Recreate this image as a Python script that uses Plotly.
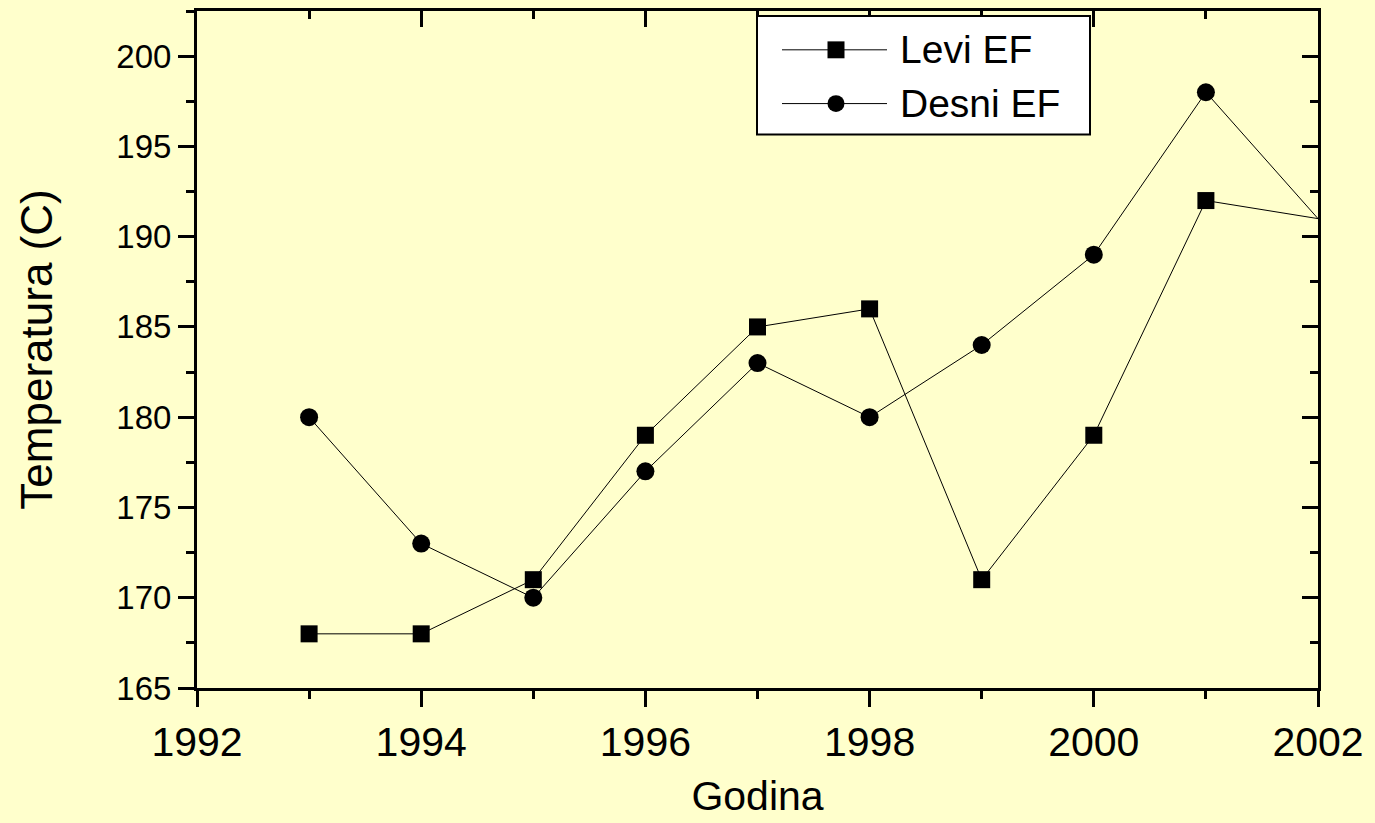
import plotly.graph_objects as go

years = [1993, 1994, 1995, 1996, 1997, 1998, 1999, 2000, 2001, 2002]
levi_ef = [168, 168, 171, 179, 185, 186, 171, 179, 192, 191]
desni_ef = [180, 173, 170, 177, 183, 180, 184, 189, 198, 191]
series_names = ["Levi EF", "Desni EF"]

x_title = "Godina"
y_title = "Temperatura (C)"
x_range = [1992, 2002]
y_range = [165, 202.5]

FONT = "Liberation Sans, Arial, sans-serif"
BG = "#FFFFCC"

W, H = 1375, 823
ML, MR, MT, MB = 197, 57, 11, 132
PW, PH = W - ML - MR, H - MT - MB

def px_x(px):
    return (px - ML) / PW

def px_y(py):
    return (H - MB - py) / PH

# hide marker on last (edge) point
sq_sizes = [17] * (len(years) - 1) + [0]
ci_sizes = [18] * (len(years) - 1) + [0]

fig = go.Figure()
fig.add_trace(go.Scatter(
    x=years, y=levi_ef, name=series_names[0], mode="lines+markers",
    line=dict(color="black", width=1),
    marker=dict(symbol="square", size=sq_sizes, color="black",
                line=dict(color="black", width=0), opacity=1),
))
fig.add_trace(go.Scatter(
    x=years, y=desni_ef, name=series_names[1], mode="lines+markers",
    line=dict(color="black", width=1),
    marker=dict(symbol="circle", size=ci_sizes, color="black",
                line=dict(color="black", width=0), opacity=1),
))
# helper trace for mirrored axes (top/right with inward ticks)
fig.add_trace(go.Scatter(x=[None], y=[None], xaxis="x2", yaxis="y2",
                         showlegend=False, hoverinfo="skip"))

# custom legend (Origin style: long line sample with centred marker)
shapes = []
annotations = []
box = dict(x0=757, x1=1090, y0=16, y1=135)
shapes.append(dict(type="rect", xref="paper", yref="paper", layer="above",
                   x0=px_x(box["x0"]), x1=px_x(box["x1"]),
                   y0=px_y(box["y1"]), y1=px_y(box["y0"]),
                   fillcolor="white", line=dict(color="black", width=2)))
rows = [50, 104]
for i, (name, row) in enumerate(zip(series_names, rows)):
    shapes.append(dict(type="line", xref="paper", yref="paper", layer="above",
                       x0=px_x(782), x1=px_x(887), y0=px_y(row), y1=px_y(row),
                       line=dict(color="black", width=1)))
    half = 8.5
    shapes.append(dict(type="rect" if i == 0 else "circle",
                       xref="paper", yref="paper", layer="above",
                       x0=px_x(836 - half), x1=px_x(836 + half),
                       y0=px_y(row + half), y1=px_y(row - half),
                       fillcolor="black", line=dict(color="black", width=0)))
    annotations.append(dict(text=name, xref="paper", yref="paper",
                            x=px_x(898), y=px_y(row), xanchor="left",
                            yanchor="middle", showarrow=False,
                            font=dict(size=39, family=FONT, color="black")))

common = dict(showline=True, linecolor="black", linewidth=3,
              showgrid=False, zeroline=False, tickwidth=2.5, ticklen=16,
              tickcolor="black")

fig.update_layout(
    width=W, height=H,
    margin=dict(l=ML, r=MR, t=MT, b=MB),
    paper_bgcolor=BG, plot_bgcolor=BG,
    font=dict(family=FONT, color="black"),
    showlegend=False,
    shapes=shapes,
    annotations=annotations,
    xaxis=dict(
        range=x_range, dtick=2, tick0=1992, ticks="outside",
        tickfont=dict(size=41), title=dict(text=x_title, font=dict(size=41), standoff=18),
        minor=dict(dtick=1, ticks="outside", ticklen=8, tickwidth=2.5, tickcolor="black"),
        **common,
    ),
    yaxis=dict(
        range=y_range, dtick=5, tick0=165, ticks="outside",
        tickfont=dict(size=33), title=dict(text=y_title, font=dict(size=44), standoff=50),
        minor=dict(dtick=2.5, ticks="outside", ticklen=8, tickwidth=2.5, tickcolor="black"),
        **common,
    ),
    xaxis2=dict(
        range=x_range, dtick=2, tick0=1992, ticks="inside", side="top",
        overlaying="x", anchor="y2", showticklabels=False,
        minor=dict(dtick=1, ticks="inside", ticklen=8, tickwidth=2.5, tickcolor="black"),
        **common,
    ),
    yaxis2=dict(
        range=y_range, dtick=5, tick0=165, ticks="inside", side="right",
        overlaying="y", anchor="x2", showticklabels=False,
        minor=dict(dtick=2.5, ticks="inside", ticklen=8, tickwidth=2.5, tickcolor="black"),
        **common,
    ),
)

fig.write_html("out.html")
